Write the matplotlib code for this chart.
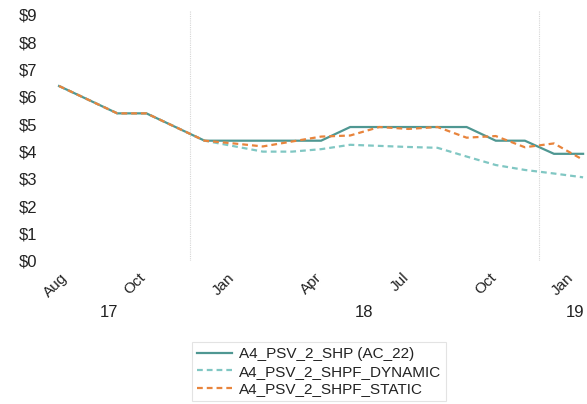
import matplotlib
matplotlib.use("Agg")
import matplotlib.pyplot as plt
import numpy as np

plt.rcParams["font.family"] = ["Liberation Sans", "DejaVu Sans"]

# Monthly series, Aug 2017 .. Feb 2019
months = ["2017-08", "2017-09", "2017-10", "2017-11", "2017-12",
          "2018-01", "2018-02", "2018-03", "2018-04", "2018-05", "2018-06",
          "2018-07", "2018-08", "2018-09", "2018-10", "2018-11", "2018-12",
          "2019-01", "2019-02"]

shp_ac22 = [6.40, 5.90, 5.40, 5.40, 4.90,
            4.40, 4.40, 4.40, 4.40, 4.40, 4.90,
            4.90, 4.90, 4.90, 4.90, 4.40, 4.40,
            3.92, 3.92]
shpf_dynamic = [6.40, 5.90, 5.40, 5.40, 4.90,
                4.40, 4.20, 4.00, 4.00, 4.09, 4.25,
                4.21, 4.17, 4.14, 3.82, 3.51, 3.33,
                3.20, 3.06]
shpf_static = [6.40, 5.90, 5.40, 5.40, 4.90,
               4.40, 4.30, 4.19, 4.37, 4.55, 4.59,
               4.90, 4.83, 4.90, 4.51, 4.57, 4.16,
               4.30, 3.70]

series_names = ["A4_PSV_2_SHP (AC_22)", "A4_PSV_2_SHPF_DYNAMIC", "A4_PSV_2_SHPF_STATIC"]
series_colors = ["#4f9792", "#80c7c3", "#e8843c"]

# month-axis labels and year headers
month_labels = ["Aug", "Oct", "Jan", "Apr", "Jul", "Oct", "Jan"]
month_label_pos = [-0.1, 2.6, 5.65, 8.65, 11.7, 14.65, 17.3]
year_labels = ["17", "18", "19"]
year_label_pos = [1.72, 10.48, 17.73]
year_breaks = [4.5, 16.5]

y_ticks = list(range(0, 10))

text_color = "#222222"

fig = plt.figure(figsize=(5.87, 4.04), dpi=100)
ax = fig.add_axes([44.5 / 587, (404 - 261) / 404, (586 - 44.5) / 587, 251 / 404])

x = np.arange(len(months))

ax.plot(x, shp_ac22, color=series_colors[0], lw=1.6, solid_joinstyle="miter",
        label=series_names[0], zorder=3)
ax.plot(x, shpf_dynamic, color=series_colors[1], lw=1.6, dashes=(2.6, 1.8),
        label=series_names[1], zorder=4)
ax.plot(x, shpf_static, color=series_colors[2], lw=1.6, dashes=(2.6, 1.8),
        label=series_names[2], zorder=5)

for xb in year_breaks:
    ax.axvline(xb, color="#d6d6d6", lw=0.8, ls=(0, (1, 1)), zorder=1)

ax.set_xlim(-0.5, 18.1)
ax.set_ylim(0, 9.18)

ax.set_yticks(y_ticks)
ax.set_yticklabels([f"${v}" for v in y_ticks])
ax.tick_params(axis="y", length=0, pad=5, labelsize=12, labelcolor=text_color)

ax.set_xticks(month_label_pos)
ax.set_xticklabels(month_labels, rotation=45, ha="center")
ax.tick_params(axis="x", length=0, pad=7, labelsize=11, labelcolor=text_color)

for lab, pos in zip(year_labels, year_label_pos):
    ax.annotate(lab, xy=(pos, 0), xycoords=("data", "axes fraction"),
                xytext=(0, -37.4), textcoords="offset points",
                ha="center", va="center", fontsize=12, color=text_color)

for sp in ax.spines.values():
    sp.set_visible(False)

leg = ax.legend(loc="upper left", bbox_to_anchor=(192 / 587, (404 - 342) / 404),
                bbox_transform=fig.transFigure, borderaxespad=0, frameon=True,
                fancybox=False, edgecolor="#dddddd", fontsize=11,
                handlelength=2.3, handletextpad=0.4, labelspacing=0.22,
                borderpad=0.35)
leg.get_frame().set_linewidth(0.8)
for t in leg.get_texts():
    t.set_color(text_color)

fig.savefig("out.png", dpi=100)
